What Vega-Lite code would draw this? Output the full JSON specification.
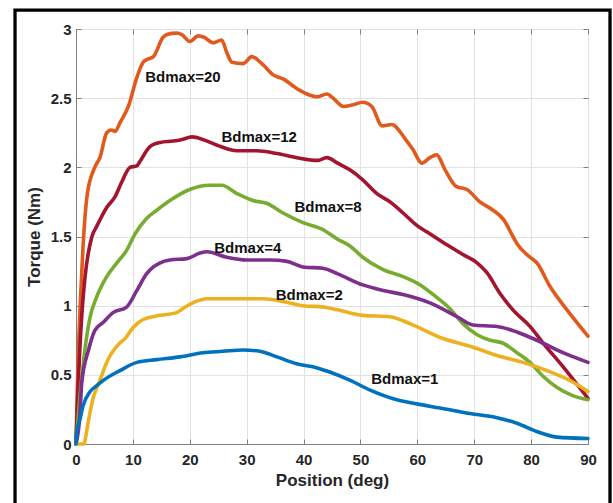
{
  "$schema": "https://vega.github.io/schema/vega-lite/v6.json",
  "width": 512,
  "height": 415,
  "autosize": {"type": "none"},
  "padding": {"left": 76, "top": 29, "right": 25, "bottom": 59},
  "background": "white",
  "config": {
    "view": {"stroke": "#808080", "strokeWidth": 1},
    "font": "Liberation Sans",
    "axis": {
      "labelFont": "Liberation Sans",
      "labelFontWeight": "bold",
      "labelFontSize": 15,
      "labelColor": "#262626",
      "labelFlush": false,
      "labelOverlap": false,
      "titleFont": "Liberation Sans",
      "titleFontWeight": "bold",
      "titleFontSize": 17,
      "titleColor": "#262626",
      "domainColor": "#808080",
      "tickColor": "#808080",
      "gridColor": "#e2e2e2",
      "gridWidth": 1
    }
  },
  "datasets": {
    "curves": [
      {"s": "Bdmax=20", "x": 0, "y": 0},
      {"s": "Bdmax=20", "x": 0.25, "y": 0.44},
      {"s": "Bdmax=20", "x": 0.7, "y": 0.97},
      {"s": "Bdmax=20", "x": 1.2, "y": 1.4},
      {"s": "Bdmax=20", "x": 2.0, "y": 1.81},
      {"s": "Bdmax=20", "x": 3.3, "y": 2.0},
      {"s": "Bdmax=20", "x": 4.2, "y": 2.07},
      {"s": "Bdmax=20", "x": 5.4, "y": 2.25},
      {"s": "Bdmax=20", "x": 6.2, "y": 2.27},
      {"s": "Bdmax=20", "x": 6.9, "y": 2.26},
      {"s": "Bdmax=20", "x": 7.7, "y": 2.32},
      {"s": "Bdmax=20", "x": 9.2, "y": 2.44},
      {"s": "Bdmax=20", "x": 10.7, "y": 2.65},
      {"s": "Bdmax=20", "x": 11.8, "y": 2.76},
      {"s": "Bdmax=20", "x": 12.5, "y": 2.78},
      {"s": "Bdmax=20", "x": 13.6, "y": 2.8},
      {"s": "Bdmax=20", "x": 15.3, "y": 2.94},
      {"s": "Bdmax=20", "x": 16, "y": 2.96},
      {"s": "Bdmax=20", "x": 17.7, "y": 2.97},
      {"s": "Bdmax=20", "x": 18.6, "y": 2.96},
      {"s": "Bdmax=20", "x": 20, "y": 2.91},
      {"s": "Bdmax=20", "x": 21.5, "y": 2.95},
      {"s": "Bdmax=20", "x": 22.5, "y": 2.94},
      {"s": "Bdmax=20", "x": 24.1, "y": 2.9},
      {"s": "Bdmax=20", "x": 25.6, "y": 2.92},
      {"s": "Bdmax=20", "x": 26.5, "y": 2.83},
      {"s": "Bdmax=20", "x": 27.4, "y": 2.76},
      {"s": "Bdmax=20", "x": 29.4, "y": 2.75},
      {"s": "Bdmax=20", "x": 30.9, "y": 2.8},
      {"s": "Bdmax=20", "x": 32.9, "y": 2.74},
      {"s": "Bdmax=20", "x": 34.6, "y": 2.67},
      {"s": "Bdmax=20", "x": 36.4, "y": 2.64},
      {"s": "Bdmax=20", "x": 38.8, "y": 2.57},
      {"s": "Bdmax=20", "x": 40.6, "y": 2.53},
      {"s": "Bdmax=20", "x": 42.4, "y": 2.51},
      {"s": "Bdmax=20", "x": 44.1, "y": 2.53},
      {"s": "Bdmax=20", "x": 45.2, "y": 2.5},
      {"s": "Bdmax=20", "x": 47, "y": 2.44},
      {"s": "Bdmax=20", "x": 48.5, "y": 2.45},
      {"s": "Bdmax=20", "x": 50.4, "y": 2.47},
      {"s": "Bdmax=20", "x": 52, "y": 2.44},
      {"s": "Bdmax=20", "x": 53.8, "y": 2.3},
      {"s": "Bdmax=20", "x": 55.5, "y": 2.31},
      {"s": "Bdmax=20", "x": 57.8, "y": 2.21},
      {"s": "Bdmax=20", "x": 59.2, "y": 2.13},
      {"s": "Bdmax=20", "x": 60.8, "y": 2.03},
      {"s": "Bdmax=20", "x": 62.2, "y": 2.07},
      {"s": "Bdmax=20", "x": 63.4, "y": 2.09},
      {"s": "Bdmax=20", "x": 64.9, "y": 1.98},
      {"s": "Bdmax=20", "x": 66.9, "y": 1.86},
      {"s": "Bdmax=20", "x": 68.7, "y": 1.84},
      {"s": "Bdmax=20", "x": 71, "y": 1.75},
      {"s": "Bdmax=20", "x": 73.3, "y": 1.69},
      {"s": "Bdmax=20", "x": 75.2, "y": 1.62},
      {"s": "Bdmax=20", "x": 76.8, "y": 1.5},
      {"s": "Bdmax=20", "x": 77.5, "y": 1.45},
      {"s": "Bdmax=20", "x": 79.8, "y": 1.35},
      {"s": "Bdmax=20", "x": 81, "y": 1.31},
      {"s": "Bdmax=20", "x": 83.3, "y": 1.14},
      {"s": "Bdmax=20", "x": 86.3, "y": 0.97},
      {"s": "Bdmax=20", "x": 90, "y": 0.78},

      {"s": "Bdmax=12", "x": 0, "y": 0},
      {"s": "Bdmax=12", "x": 0.4, "y": 0.44},
      {"s": "Bdmax=12", "x": 1.0, "y": 0.92},
      {"s": "Bdmax=12", "x": 1.6, "y": 1.21},
      {"s": "Bdmax=12", "x": 2.8, "y": 1.5},
      {"s": "Bdmax=12", "x": 3.6, "y": 1.57},
      {"s": "Bdmax=12", "x": 5.4, "y": 1.71},
      {"s": "Bdmax=12", "x": 6.9, "y": 1.79},
      {"s": "Bdmax=12", "x": 8.0, "y": 1.89},
      {"s": "Bdmax=12", "x": 9.5, "y": 2.0},
      {"s": "Bdmax=12", "x": 10.7, "y": 2.01},
      {"s": "Bdmax=12", "x": 11.2, "y": 2.04},
      {"s": "Bdmax=12", "x": 13, "y": 2.15},
      {"s": "Bdmax=12", "x": 14.8, "y": 2.18},
      {"s": "Bdmax=12", "x": 17.1, "y": 2.19},
      {"s": "Bdmax=12", "x": 18.5, "y": 2.2},
      {"s": "Bdmax=12", "x": 20.4, "y": 2.22},
      {"s": "Bdmax=12", "x": 22.4, "y": 2.2},
      {"s": "Bdmax=12", "x": 24.8, "y": 2.16},
      {"s": "Bdmax=12", "x": 28.3, "y": 2.12},
      {"s": "Bdmax=12", "x": 31.8, "y": 2.12},
      {"s": "Bdmax=12", "x": 35.3, "y": 2.1},
      {"s": "Bdmax=12", "x": 38.8, "y": 2.07},
      {"s": "Bdmax=12", "x": 42.4, "y": 2.05},
      {"s": "Bdmax=12", "x": 44.1, "y": 2.07},
      {"s": "Bdmax=12", "x": 46, "y": 2.03},
      {"s": "Bdmax=12", "x": 48.2, "y": 1.98},
      {"s": "Bdmax=12", "x": 50.4, "y": 1.91},
      {"s": "Bdmax=12", "x": 52.9, "y": 1.81},
      {"s": "Bdmax=12", "x": 55.2, "y": 1.75},
      {"s": "Bdmax=12", "x": 57.5, "y": 1.67},
      {"s": "Bdmax=12", "x": 59.9, "y": 1.58},
      {"s": "Bdmax=12", "x": 62.2, "y": 1.52},
      {"s": "Bdmax=12", "x": 65.2, "y": 1.44},
      {"s": "Bdmax=12", "x": 68, "y": 1.37},
      {"s": "Bdmax=12", "x": 70.5, "y": 1.31},
      {"s": "Bdmax=12", "x": 72.2, "y": 1.24},
      {"s": "Bdmax=12", "x": 74.5, "y": 1.09},
      {"s": "Bdmax=12", "x": 76.8, "y": 0.97},
      {"s": "Bdmax=12", "x": 79.8, "y": 0.85},
      {"s": "Bdmax=12", "x": 82.1, "y": 0.73},
      {"s": "Bdmax=12", "x": 85.6, "y": 0.56},
      {"s": "Bdmax=12", "x": 90, "y": 0.33},

      {"s": "Bdmax=8", "x": 0, "y": 0},
      {"s": "Bdmax=8", "x": 0.7, "y": 0.35},
      {"s": "Bdmax=8", "x": 1.5, "y": 0.66},
      {"s": "Bdmax=8", "x": 2.5, "y": 0.92},
      {"s": "Bdmax=8", "x": 3.6, "y": 1.06},
      {"s": "Bdmax=8", "x": 5.4, "y": 1.21},
      {"s": "Bdmax=8", "x": 7.2, "y": 1.31},
      {"s": "Bdmax=8", "x": 8.9, "y": 1.4},
      {"s": "Bdmax=8", "x": 10.4, "y": 1.52},
      {"s": "Bdmax=8", "x": 12.4, "y": 1.63},
      {"s": "Bdmax=8", "x": 14.2, "y": 1.69},
      {"s": "Bdmax=8", "x": 16.5, "y": 1.76},
      {"s": "Bdmax=8", "x": 20, "y": 1.84},
      {"s": "Bdmax=8", "x": 23.5, "y": 1.87},
      {"s": "Bdmax=8", "x": 25.6, "y": 1.87},
      {"s": "Bdmax=8", "x": 28.3, "y": 1.81},
      {"s": "Bdmax=8", "x": 31.1, "y": 1.76},
      {"s": "Bdmax=8", "x": 33.5, "y": 1.74},
      {"s": "Bdmax=8", "x": 36.4, "y": 1.67},
      {"s": "Bdmax=8", "x": 39.9, "y": 1.6},
      {"s": "Bdmax=8", "x": 43.4, "y": 1.55},
      {"s": "Bdmax=8", "x": 46, "y": 1.48},
      {"s": "Bdmax=8", "x": 48.2, "y": 1.43},
      {"s": "Bdmax=8", "x": 50.4, "y": 1.35},
      {"s": "Bdmax=8", "x": 54, "y": 1.26},
      {"s": "Bdmax=8", "x": 57.5, "y": 1.21},
      {"s": "Bdmax=8", "x": 60.5, "y": 1.15},
      {"s": "Bdmax=8", "x": 63.4, "y": 1.06},
      {"s": "Bdmax=8", "x": 65.7, "y": 0.98},
      {"s": "Bdmax=8", "x": 68, "y": 0.87},
      {"s": "Bdmax=8", "x": 70.5, "y": 0.79},
      {"s": "Bdmax=8", "x": 72.8, "y": 0.75},
      {"s": "Bdmax=8", "x": 75, "y": 0.73},
      {"s": "Bdmax=8", "x": 77.5, "y": 0.66},
      {"s": "Bdmax=8", "x": 79.8, "y": 0.59},
      {"s": "Bdmax=8", "x": 82.1, "y": 0.49},
      {"s": "Bdmax=8", "x": 84.5, "y": 0.41},
      {"s": "Bdmax=8", "x": 87.3, "y": 0.35},
      {"s": "Bdmax=8", "x": 90, "y": 0.32},

      {"s": "Bdmax=4", "x": 0, "y": 0},
      {"s": "Bdmax=4", "x": 0.7, "y": 0.22},
      {"s": "Bdmax=4", "x": 1.0, "y": 0.44},
      {"s": "Bdmax=4", "x": 2.2, "y": 0.68},
      {"s": "Bdmax=4", "x": 3.3, "y": 0.82},
      {"s": "Bdmax=4", "x": 4.8, "y": 0.88},
      {"s": "Bdmax=4", "x": 6.5, "y": 0.95},
      {"s": "Bdmax=4", "x": 8.9, "y": 0.99},
      {"s": "Bdmax=4", "x": 10.7, "y": 1.11},
      {"s": "Bdmax=4", "x": 12.4, "y": 1.23},
      {"s": "Bdmax=4", "x": 13.6, "y": 1.28},
      {"s": "Bdmax=4", "x": 14.8, "y": 1.31},
      {"s": "Bdmax=4", "x": 16.5, "y": 1.33},
      {"s": "Bdmax=4", "x": 19.5, "y": 1.34},
      {"s": "Bdmax=4", "x": 21.8, "y": 1.38},
      {"s": "Bdmax=4", "x": 23, "y": 1.39},
      {"s": "Bdmax=4", "x": 26.5, "y": 1.35},
      {"s": "Bdmax=4", "x": 30, "y": 1.33},
      {"s": "Bdmax=4", "x": 34.1, "y": 1.33},
      {"s": "Bdmax=4", "x": 37.1, "y": 1.32},
      {"s": "Bdmax=4", "x": 39.9, "y": 1.28},
      {"s": "Bdmax=4", "x": 43.4, "y": 1.27},
      {"s": "Bdmax=4", "x": 46, "y": 1.23},
      {"s": "Bdmax=4", "x": 50.4, "y": 1.15},
      {"s": "Bdmax=4", "x": 54, "y": 1.11},
      {"s": "Bdmax=4", "x": 57.5, "y": 1.08},
      {"s": "Bdmax=4", "x": 62.2, "y": 1.02},
      {"s": "Bdmax=4", "x": 67, "y": 0.92},
      {"s": "Bdmax=4", "x": 69.8, "y": 0.86},
      {"s": "Bdmax=4", "x": 74, "y": 0.85},
      {"s": "Bdmax=4", "x": 77.5, "y": 0.81},
      {"s": "Bdmax=4", "x": 81, "y": 0.75},
      {"s": "Bdmax=4", "x": 85.6, "y": 0.66},
      {"s": "Bdmax=4", "x": 90, "y": 0.59},

      {"s": "Bdmax=2", "x": 0, "y": 0},
      {"s": "Bdmax=2", "x": 1.4, "y": 0},
      {"s": "Bdmax=2", "x": 1.6, "y": 0.03},
      {"s": "Bdmax=2", "x": 2.2, "y": 0.17},
      {"s": "Bdmax=2", "x": 3.0, "y": 0.33},
      {"s": "Bdmax=2", "x": 3.6, "y": 0.4},
      {"s": "Bdmax=2", "x": 4.2, "y": 0.46},
      {"s": "Bdmax=2", "x": 5.4, "y": 0.59},
      {"s": "Bdmax=2", "x": 7.7, "y": 0.73},
      {"s": "Bdmax=2", "x": 8.6, "y": 0.76},
      {"s": "Bdmax=2", "x": 10, "y": 0.84},
      {"s": "Bdmax=2", "x": 11.8, "y": 0.9},
      {"s": "Bdmax=2", "x": 14.8, "y": 0.93},
      {"s": "Bdmax=2", "x": 17.7, "y": 0.95},
      {"s": "Bdmax=2", "x": 18.8, "y": 0.98},
      {"s": "Bdmax=2", "x": 20, "y": 1.01},
      {"s": "Bdmax=2", "x": 21.8, "y": 1.04},
      {"s": "Bdmax=2", "x": 23, "y": 1.05},
      {"s": "Bdmax=2", "x": 25.8, "y": 1.05},
      {"s": "Bdmax=2", "x": 30, "y": 1.05},
      {"s": "Bdmax=2", "x": 32.9, "y": 1.05},
      {"s": "Bdmax=2", "x": 36.4, "y": 1.03},
      {"s": "Bdmax=2", "x": 39.9, "y": 1.0},
      {"s": "Bdmax=2", "x": 43.4, "y": 0.99},
      {"s": "Bdmax=2", "x": 46, "y": 0.97},
      {"s": "Bdmax=2", "x": 50.4, "y": 0.93},
      {"s": "Bdmax=2", "x": 55.2, "y": 0.92},
      {"s": "Bdmax=2", "x": 58.7, "y": 0.87},
      {"s": "Bdmax=2", "x": 64, "y": 0.77},
      {"s": "Bdmax=2", "x": 69.8, "y": 0.7},
      {"s": "Bdmax=2", "x": 74, "y": 0.64},
      {"s": "Bdmax=2", "x": 78.6, "y": 0.59},
      {"s": "Bdmax=2", "x": 82.8, "y": 0.53},
      {"s": "Bdmax=2", "x": 86.8, "y": 0.46},
      {"s": "Bdmax=2", "x": 90, "y": 0.38},

      {"s": "Bdmax=1", "x": 0, "y": 0},
      {"s": "Bdmax=1", "x": 0.1, "y": 0.08},
      {"s": "Bdmax=1", "x": 0.7, "y": 0.18},
      {"s": "Bdmax=1", "x": 1.2, "y": 0.27},
      {"s": "Bdmax=1", "x": 2.5, "y": 0.38},
      {"s": "Bdmax=1", "x": 3.6, "y": 0.42},
      {"s": "Bdmax=1", "x": 4.8, "y": 0.46},
      {"s": "Bdmax=1", "x": 7.7, "y": 0.53},
      {"s": "Bdmax=1", "x": 10.7, "y": 0.59},
      {"s": "Bdmax=1", "x": 14.2, "y": 0.61},
      {"s": "Bdmax=1", "x": 18.3, "y": 0.63},
      {"s": "Bdmax=1", "x": 22.3, "y": 0.66},
      {"s": "Bdmax=1", "x": 25.8, "y": 0.67},
      {"s": "Bdmax=1", "x": 29.4, "y": 0.68},
      {"s": "Bdmax=1", "x": 32.3, "y": 0.67},
      {"s": "Bdmax=1", "x": 35.3, "y": 0.63},
      {"s": "Bdmax=1", "x": 38.8, "y": 0.58},
      {"s": "Bdmax=1", "x": 42.4, "y": 0.55},
      {"s": "Bdmax=1", "x": 44.6, "y": 0.52},
      {"s": "Bdmax=1", "x": 48.2, "y": 0.46},
      {"s": "Bdmax=1", "x": 51.7, "y": 0.39},
      {"s": "Bdmax=1", "x": 56.4, "y": 0.32},
      {"s": "Bdmax=1", "x": 59.9, "y": 0.29},
      {"s": "Bdmax=1", "x": 64, "y": 0.26},
      {"s": "Bdmax=1", "x": 69.2, "y": 0.22},
      {"s": "Bdmax=1", "x": 74, "y": 0.19},
      {"s": "Bdmax=1", "x": 77.5, "y": 0.15},
      {"s": "Bdmax=1", "x": 81, "y": 0.09},
      {"s": "Bdmax=1", "x": 84.5, "y": 0.05},
      {"s": "Bdmax=1", "x": 90, "y": 0.04}
    ],
    "labels": [
      {"label": "Bdmax=20", "x": 18.8, "y": 2.65},
      {"label": "Bdmax=12", "x": 32.2, "y": 2.22},
      {"label": "Bdmax=8", "x": 44.3, "y": 1.71},
      {"label": "Bdmax=4", "x": 30.2, "y": 1.42},
      {"label": "Bdmax=2", "x": 41.0, "y": 1.08},
      {"label": "Bdmax=1", "x": 57.8, "y": 0.47}
    ]
  },
  "layer": [
    {
      "data": {"values": [{}]},
      "mark": {"type": "rect", "filled": false, "stroke": "black", "strokeWidth": 3.3, "clip": false},
      "encoding": {
        "x": {"datum": -10.72, "type": "quantitative", "scale": {"domain": [0, 90]}, "axis": null},
        "x2": {"datum": 93.87},
        "y": {"datum": 3.137, "type": "quantitative", "scale": {"domain": [0, 3]}, "axis": null},
        "y2": {"datum": -0.6}
      }
    },
    {
      "data": {"name": "curves"},
      "mark": {"type": "line", "strokeWidth": 3.6, "interpolate": "monotone", "strokeJoin": "round", "strokeCap": "round"},
      "encoding": {
        "x": {
          "field": "x", "type": "quantitative",
          "scale": {"domain": [0, 90], "nice": false, "zero": false},
          "axis": {
            "title": "Position (deg)",
            "values": [0, 10, 20, 30, 40, 50, 60, 70, 80, 90],
            "grid": true,
            "tickSize": -5,
            "labelPadding": 13,
            "titlePadding": 5
          }
        },
        "y": {
          "field": "y", "type": "quantitative",
          "scale": {"domain": [0, 3], "nice": false, "zero": false},
          "axis": {
            "title": "Torque (Nm)",
            "values": [0, 0.5, 1, 1.5, 2, 2.5, 3],
            "format": "~g",
            "grid": true,
            "tickSize": -5,
            "labelPadding": 10,
            "titlePadding": 7
          }
        },
        "color": {
          "field": "s", "type": "nominal",
          "scale": {
            "domain": ["Bdmax=1", "Bdmax=2", "Bdmax=4", "Bdmax=8", "Bdmax=12", "Bdmax=20"],
            "range": ["#0072BD", "#EDB120", "#7E2F8E", "#77AC30", "#A2142F", "#DF5A1C"]
          },
          "legend": null
        }
      }
    },
    {
      "data": {"name": "labels"},
      "mark": {"type": "text", "font": "Liberation Sans", "fontWeight": "bold", "fontSize": 15, "color": "#111111", "align": "center", "baseline": "middle"},
      "encoding": {
        "x": {"field": "x", "type": "quantitative", "axis": null},
        "y": {"field": "y", "type": "quantitative", "axis": null},
        "text": {"field": "label"}
      }
    },
    {
      "data": {"name": "labels"},
      "mark": {"type": "point", "opacity": 0},
      "encoding": {
        "x": {
          "field": "x", "type": "quantitative",
          "axis": {"orient": "top", "values": [0, 10, 20, 30, 40, 50, 60, 70, 80, 90], "labels": false, "domain": false, "grid": false, "tickSize": -5, "title": null}
        },
        "y": {
          "field": "y", "type": "quantitative",
          "axis": {"orient": "right", "values": [0, 0.5, 1, 1.5, 2, 2.5, 3], "labels": false, "domain": false, "grid": false, "tickSize": -5, "title": null}
        }
      }
    }
  ],
  "resolve": {"axis": {"x": "independent", "y": "independent"}}
}
